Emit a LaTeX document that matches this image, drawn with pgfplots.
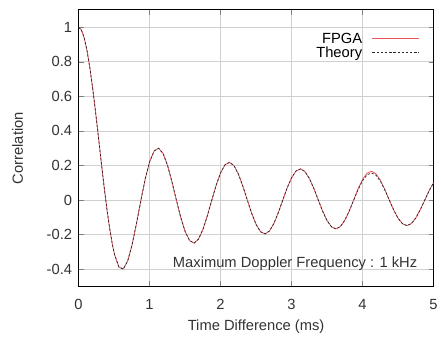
\documentclass[border=0pt]{standalone}
\usepackage{pgfplots}
\pgfplotsset{compat=1.18}
\usepackage{fontspec}
\setmainfont{Liberation Sans}
\definecolor{fpgared}{RGB}{232,85,95}
\definecolor{gridgray}{RGB}{208,208,208}
\newcommand{\chartfont}{\fontsize{14.8}{16}\selectfont}
\begin{document}
\begin{tikzpicture}
\begin{axis}[
  scale only axis, width=357pt, height=278pt,
  xmin=0, xmax=5, ymin=-0.5, ymax=1.1,
  xtick={0,1,2,3,4,5},
  ytick={-0.4,-0.2,0,0.2,0.4,0.6,0.8,1},
  yticklabels={-0.4,-0.2,0,0.2,0.4,0.6,0.8,1},
  tick align=inside, tick pos=both,
  major tick length=5pt,
  grid=major, grid style={gridgray, line width=0.6pt},
  axis line style={line width=1.1pt},
  /pgf/number format/assume math mode=true,
  tick label style={font=\chartfont, text=black!80},
  label style={font=\chartfont, text=black!80},
  xticklabel style={yshift=-9pt},
  yticklabel style={xshift=-3pt},
  xlabel={Time Difference (ms)},
  ylabel={Correlation},
  xlabel style={yshift=-4pt},
  ylabel style={yshift=17pt},
  legend style={draw=none, fill=none, at={(0.961,0.925)}, anchor=north east,
    font=\chartfont, row sep=-2pt, inner sep=0pt,
    /tikz/every odd column/.append style={column sep=8pt}},
  legend cell align=right, legend plot pos=right,
  legend image code/.code={\draw[#1] (0cm,0cm) -- (1.65cm,0cm);},
]
\addplot[fpgared, line width=0.8pt] coordinates {
(0,1) (0.03979,0.98444) (0.07958,0.93847) (0.11937,0.86424) (0.15915,0.76520)
(0.19894,0.64591) (0.23873,0.51183) (0.27852,0.36903) (0.31831,0.22389)
(0.35810,0.08275) (0.39789,-0.04838) (0.43768,-0.16414) (0.47746,-0.26005)
(0.50625,-0.31436) (0.56807,-0.38824) (0.63003,-0.39941) (0.69208,-0.35232)
(0.75420,-0.25845) (0.81638,-0.13449) (0.87860,0) (0.94087,0.12535)
(1.00316,0.22437) (1.06547,0.28450) (1.12781,0.29936) (1.19016,0.26926)
(1.25253,0.20091) (1.31491,0.10613) (1.37730,0) (1.43970,-0.10144)
(1.50211,-0.18352) (1.56452,-0.23496) (1.62695,-0.24940) (1.68937,-0.22613)
(1.75181,-0.16997) (1.81425,-0.09039) (1.87669,0) (1.93913,0.08744)
(2.00158,0.15903) (2.06403,0.20462) (2.12649,0.21821) (2.18895,0.19870)
(2.25141,0.14996) (2.31387,0.08005) (2.37633,0) (2.43880,-0.07798)
(2.50127,-0.14228) (2.56374,-0.18362) (2.62621,-0.19638) (2.68868,-0.17931)
(2.75115,-0.13567) (2.81363,-0.07260) (2.87610,0) (2.93858,0.07105)
(3.00106,0.12991) (3.06353,0.16799) (3.12601,0.18001) (3.18849,0.16467)
(3.25097,0.12482) (3.31346,0.06691) (3.37594,0) (3.43842,-0.06568)
(3.50090,-0.12028) (3.56339,-0.15577) (3.62587,-0.16714) (3.68836,-0.15311)
(3.75084,-0.11620) (3.81333,-0.06237) (3.87582,0.002) (3.93830,0.06637)
(4.00079,0.12052) (4.06328,0.15588) (4.12577,0.16670) (4.18826,0.15168)
(4.25075,0.11416) (4.31323,0.06065) (4.37572,0) (4.43821,-0.05782)
(4.50070,-0.10609) (4.56319,-0.13766) (4.62568,-0.14799) (4.68818,-0.13581)
(4.75067,-0.10326) (4.81316,-0.05552) (4.87565,0) (4.93814,0.05481)
(5,0.1003)
};
\addlegendentry{FPGA}
\addplot[black!85, line width=0.7pt, dash pattern=on 2.4pt off 1.8pt] coordinates {
(0,1) (0.03979,0.98444) (0.07958,0.93847) (0.11937,0.86424) (0.15915,0.76520)
(0.19894,0.64591) (0.23873,0.51183) (0.27852,0.36903) (0.31831,0.22389)
(0.35810,0.08275) (0.39789,-0.04838) (0.43768,-0.16414) (0.47746,-0.26005)
(0.50625,-0.31436) (0.56807,-0.38824) (0.63003,-0.39941) (0.69208,-0.35232)
(0.75420,-0.25845) (0.81638,-0.13449) (0.87860,0) (0.94087,0.12535)
(1.00316,0.22437) (1.06547,0.28450) (1.12781,0.29936) (1.19016,0.26926)
(1.25253,0.20091) (1.31491,0.10613) (1.37730,0) (1.43970,-0.10144)
(1.50211,-0.18352) (1.56452,-0.23496) (1.62695,-0.24940) (1.68937,-0.22613)
(1.75181,-0.16997) (1.81425,-0.09039) (1.87669,0) (1.93913,0.08744)
(2.00158,0.15903) (2.06403,0.20462) (2.12649,0.21821) (2.18895,0.19870)
(2.25141,0.14996) (2.31387,0.08005) (2.37633,0) (2.43880,-0.07798)
(2.50127,-0.14228) (2.56374,-0.18362) (2.62621,-0.19638) (2.68868,-0.17931)
(2.75115,-0.13567) (2.81363,-0.07260) (2.87610,0) (2.93858,0.07105)
(3.00106,0.12991) (3.06353,0.16799) (3.12601,0.18001) (3.18849,0.16467)
(3.25097,0.12482) (3.31346,0.06691) (3.37594,0) (3.43842,-0.06568)
(3.50090,-0.12028) (3.56339,-0.15577) (3.62587,-0.16714) (3.68836,-0.15311)
(3.75084,-0.11620) (3.81333,-0.06237) (3.87582,0) (3.93830,0.06137)
(4.00079,0.11252) (4.06328,0.14588) (4.12577,0.15670) (4.18826,0.14368)
(4.25075,0.10916) (4.31323,0.05865) (4.37572,0) (4.43821,-0.05782)
(4.50070,-0.10609) (4.56319,-0.13766) (4.62568,-0.14799) (4.68818,-0.13581)
(4.75067,-0.10326) (4.81316,-0.05552) (4.87565,0) (4.93814,0.05481)
(5,0.1003)
};
\addlegendentry{Theory}
\node[font=\chartfont, text=black!80] at (axis cs:3.05,-0.37) {Maximum Doppler Frequency : 1 kHz};
\end{axis}
\path ([shift={(-79pt,-45pt)}]current axis.south west) rectangle ([shift={(5pt,10pt)}]current axis.north east);
\end{tikzpicture}
\end{document}
